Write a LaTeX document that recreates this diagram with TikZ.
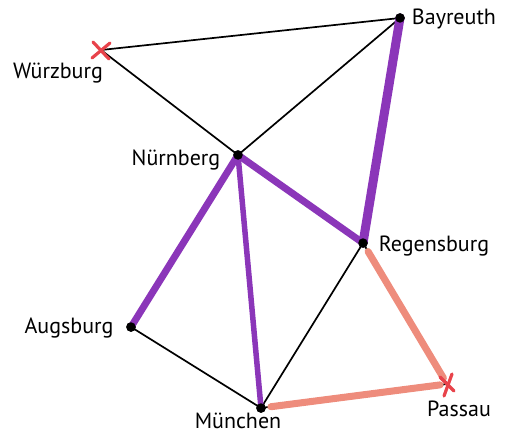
\documentclass[tikz,border=0pt]{standalone}
\usepackage{fontspec}
\setmainfont{PT Sans}
\begin{document}
\begin{tikzpicture}[x=1pt,y=-1pt,
  thin edge/.style={black, line width=1.7pt, line cap=round},
  purple edge/.style={draw=routeviolet, line width=#1, line cap=round},
  salmon edge/.style={draw=routesalmon, line width=7pt, line cap=round, shorten <=10pt, shorten >=7pt},
  city/.style={circle, fill=black, inner sep=0pt, minimum size=9.5pt},
  endcity/.style={inner sep=0pt, minimum size=8pt},
  citylabel/.style={font=\fontsize{22}{24}\selectfont, inner sep=0pt},
  crossline/.style={draw=crossred, line width=3.2pt, line cap=round}]
\definecolor{routeviolet}{HTML}{8B36B9}
\definecolor{routesalmon}{HTML}{EE8C7C}
\definecolor{crossred}{HTML}{E8434B}
\useasboundingbox (0,0) rectangle (509,436);
% nodes
\node[endcity] (W) at (101,50) {};
\node[city] (B) at (400,18) {};
\node[city] (N) at (238,155) {};
\node[city] (R) at (363,243) {};
\node[city] (A) at (131,327) {};
\node[city] (M) at (261,408) {};
\node[endcity] (P) at (447,384) {};
% labels
\node[citylabel] (Wl) at (58,73) {Würzburg};
\node[citylabel] (Bl) at (454,19) {Bayreuth};
\node[citylabel] (Nl) at (176,160) {Nürnberg};
\node[citylabel] (Rl) at (434,246) {Regensburg};
\node[citylabel] (Al) at (69,328) {Augsburg};
\node[citylabel] (Ml) at (238,421) {München};
\node[citylabel] (Pl) at (459,409) {Passau};
% thin edges
\draw[thin edge] (W.center) -- (B.center);
\draw[thin edge] (W.center) -- (N.center);
\draw[thin edge] (N.center) -- (B.center);
\draw[thin edge] (N.center) -- (A.center);
\draw[thin edge] (N.center) -- (M.center);
\draw[thin edge] (N.center) -- (R.center);
\draw[thin edge] (B.center) -- (R.center);
\draw[thin edge] (A.center) -- (M.center);
\draw[thin edge] (M.center) -- (R.center);
\draw[thin edge] (R.center) -- (P.center);
\draw[thin edge] (M.center) -- (P.center);
% highlighted routes
\draw[purple edge=9pt] (B.center) -- (R.center);
\draw[purple edge=7pt] (N.center) -- (R.center);
\draw[purple edge=7pt] (N.center) -- (A.center);
\draw[purple edge=5.5pt] (N.center) -- (M.center);
\draw[salmon edge] (R.center) -- (P.center);
\draw[salmon edge] (M.center) -- (P.center);
% end markers
\node[city] at (B) {};
\node[city] at (N) {};
\node[city] at (R) {};
\node[city] at (A) {};
\node[city] at (M) {};
\draw[crossline] ([shift={(-8,-8)}]W.center) -- ([shift={(8,9)}]W.center);
\draw[crossline] ([shift={(-9,8)}]W.center) -- ([shift={(9,-7)}]W.center);
\draw[crossline] ([shift={(5,-10)}]P.center) -- ([shift={(-3,12)}]P.center);
\draw[crossline] ([shift={(-7,-7)}]P.center) -- ([shift={(7,7)}]P.center);
\end{tikzpicture}
\end{document}
